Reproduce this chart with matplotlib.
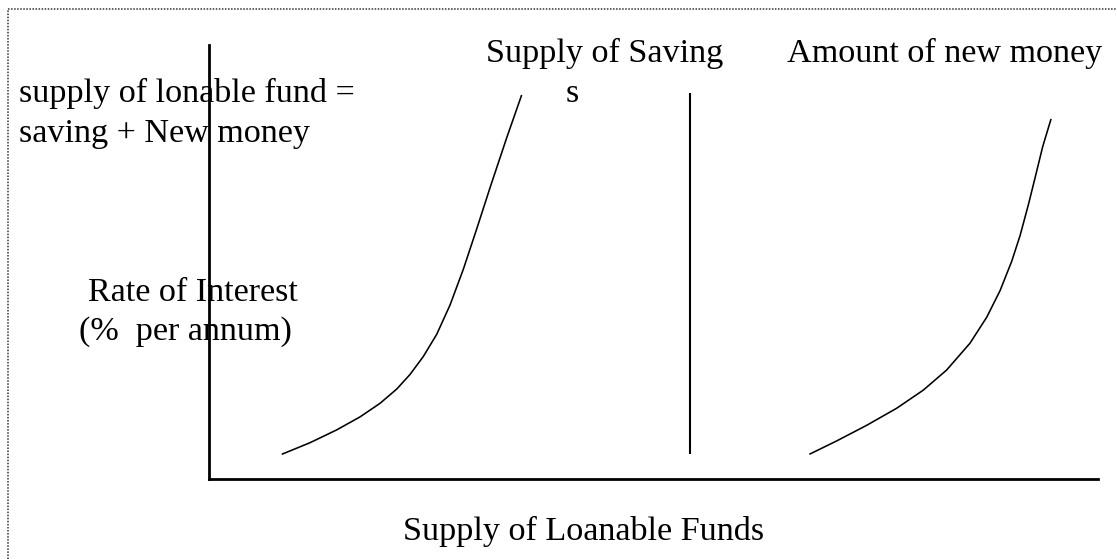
import matplotlib
matplotlib.use("Agg")
import matplotlib.pyplot as plt
from matplotlib.lines import Line2D

plt.rcParams['font.family'] = ['Liberation Serif', 'DejaVu Serif']

# curves in axis units (0-100 on both axes)
saving_x = [8.18, 11.36, 14.36, 16.99, 19.24, 21.11, 22.61, 24.11, 25.61, 27.11, 28.61, 30.11, 31.61, 33.49, 35.17]
saving_y = [5.69, 8.36, 11.31, 14.31, 17.44, 20.71, 24.08, 28.23, 33.32, 40.07, 48.34, 57.60, 67.10, 78.64, 88.48]

money_x = [67.53, 70.61, 73.98, 77.36, 80.35, 82.98, 85.60, 87.48, 88.98, 90.29, 91.23, 92.16, 92.91, 93.78, 94.72]
money_y = [5.69, 8.78, 12.37, 16.31, 20.48, 25.12, 31.29, 37.26, 43.39, 50.14, 56.06, 63.13, 69.31, 76.59, 82.97]

vert_x = [54.05, 54.05]
vert_y = [5.69, 88.94]

W, H = 1117, 559
fig = plt.figure(figsize=(W / 100, H / 100), dpi=100)
ax = fig.add_axes([209 / W, 1 - 479 / H, 889 / W, 434 / H])
ax.set_xlim(0, 100)
ax.set_ylim(0, 100)
ax.set_xticks([])
ax.set_yticks([])
for s in ['top', 'right']:
    ax.spines[s].set_visible(False)
for s in ['left', 'bottom']:
    ax.spines[s].set_linewidth(2.0)
    ax.spines[s].set_color('black')
ax.patch.set_alpha(0)

line_kw = dict(color='black', clip_on=False, solid_capstyle='butt', solid_joinstyle='round')
ax.plot(saving_x, saving_y, lw=1.15, **line_kw)
ax.plot(money_x, money_y, lw=1.15, **line_kw)
ax.plot(vert_x, vert_y, lw=1.5, **line_kw)

# dotted frame (only top and left visible)
fig.add_artist(Line2D([8 / W, 1.0], [1 - 9 / H, 1 - 9 / H], transform=fig.transFigure,
                      color='#333333', lw=1.1, linestyle=(0, (1, 1))))
fig.add_artist(Line2D([8 / W, 8 / W], [0.0, 1 - 9 / H], transform=fig.transFigure,
                      color='#333333', lw=1.1, linestyle=(0, (1, 1))))

fs = 24.6
def label(px, base, txt, ha='left'):
    fig.text(px / W, 1 - base / H, txt, fontsize=fs, ha=ha, va='baseline', color='black')

label(19, 102, 'supply of lonable fund =')
label(19, 142, 'saving + New money')
label(486, 62, 'Supply of Saving')
label(572, 102, 's', ha='center')
label(787, 62, 'Amount of new money')
label(88, 301, 'Rate of Interest')
label(79, 340, '(%  per annum)')
label(403, 540, 'Supply of Loanable Funds')

fig.savefig('out.png', dpi=100)
